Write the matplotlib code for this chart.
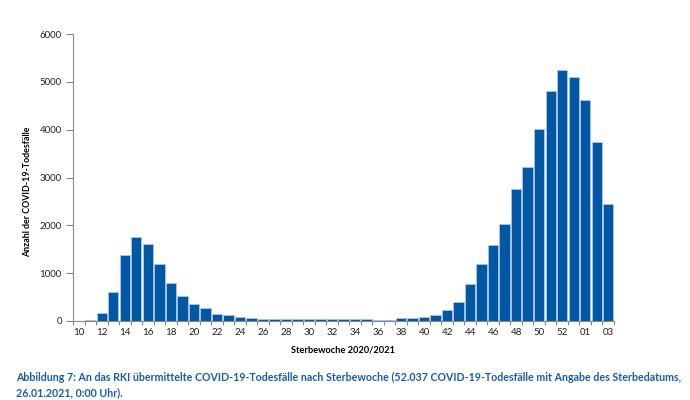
import matplotlib
matplotlib.use("Agg")
import matplotlib.pyplot as plt
import numpy as np

weeks = [str(w) for w in range(10, 54)] + ["01", "02", "03"]
deaths = [2, 20, 160, 606, 1373, 1749, 1603, 1185, 787, 523, 355, 272, 153, 118, 77,
          55, 50, 42, 35, 35, 35, 35, 35, 35, 40, 40, 15, 28, 55, 63, 84,
          125, 230, 400, 767, 1199, 1596, 2035, 2767, 3226, 4014, 4815, 5247, 5108,
          4613, 3749, 2453]
yticks = [0, 1000, 2000, 3000, 4000, 5000, 6000]

title_text = ("Abbildung 7: An das RKI übermittelte COVID-19-Todesfälle nach Sterbewoche "
              "(52.037 COVID-19-Todesfälle mit Angabe des Sterbedatums,\n26.01.2021, 0:00 Uhr).")

plt.rcParams['font.family'] = ['Lato', 'DejaVu Sans']

fig = plt.figure(figsize=(6.9, 4.0), dpi=100)
ax = fig.add_axes([73/690, 1-321/400, (614-73)/690, (321-34)/400])

x = np.arange(len(weeks))
ax.bar(x, deaths, width=0.9, color='#0057a3', edgecolor='#a9c6e8', linewidth=0.6)

ax.set_xlim(-0.5, len(weeks) - 0.5)
ax.set_ylim(0, 6000)
ax.set_yticks(yticks)
ax.set_yticklabels([str(v) for v in yticks], fontsize=7, color='#222222')

ax.set_xticks(x[::2])
ax.set_xticklabels(weeks[::2], fontsize=7, color='#222222')
ax.set_xticks(np.arange(-0.5, len(weeks), 1), minor=True)
ax.tick_params(axis='x', which='major', length=0, pad=5)
ax.tick_params(axis='x', which='minor', length=3, color='#888888', width=0.8)
ax.tick_params(axis='y', length=5, color='#888888', width=0.8, pad=3)

for s in ['top', 'right']:
    ax.spines[s].set_visible(False)
for s in ['left', 'bottom']:
    ax.spines[s].set_color('#888888')
    ax.spines[s].set_linewidth(0.8)

fig.text(28/690, 1-192/400, "Anzahl der COVID-19-Todesfälle", rotation=90,
         ha='center', va='center', fontsize=6.4, fontweight='bold')
fig.text(343/690, 1-350/400, "Sterbewoche 2020/2021", ha='center', va='center',
         fontsize=6.7, fontweight='bold')
fig.text(16/690, 1-385.5/400, title_text, ha='left', va='center', fontsize=7.7,
         fontweight='bold', color='#1a5ca8', linespacing=1.45)

fig.savefig("out.png", dpi=100)
